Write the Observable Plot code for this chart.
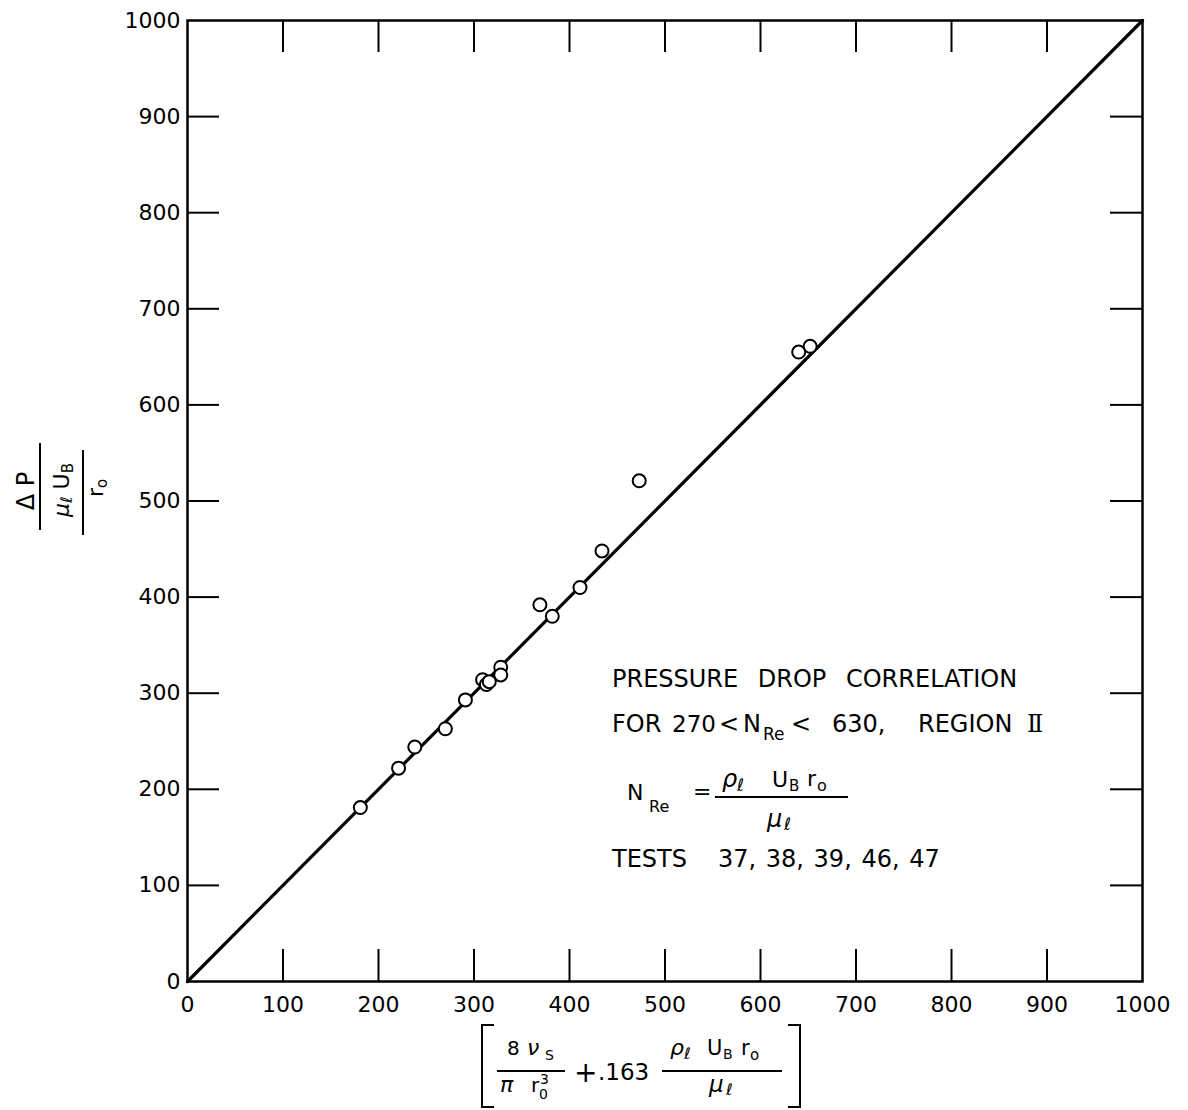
<!DOCTYPE html>
<html>
<head>
<meta charset="utf-8">
<script src="https://cdn.jsdelivr.net/npm/d3@7"></script>
<script src="https://cdn.jsdelivr.net/npm/@observablehq/plot@0.6"></script>
<style>
  html, body { margin: 0; padding: 0; background: #fff; }
  #chart { width: 1188px; height: 1110px; }
</style>
</head>
<body>
<div id="chart"></div>
<script>
// ---- data ----
const xValues = [181, 221, 238, 270, 291, 309, 313, 316, 328, 328, 369, 382, 411, 434, 473, 640, 652];
const yValues = [181, 222, 244, 263, 293, 314, 309, 312, 327, 319, 392, 380, 410, 448, 521, 655, 661];
const tickLabels = [0, 100, 200, 300, 400, 500, 600, 700, 800, 900, 1000];
const innerTicks = [100, 200, 300, 400, 500, 600, 700, 800, 900];
const fitX = [0, 1000];
const fitY = [0, 1000];

const points = xValues.map((x, i) => ({x, y: yValues[i]}));
const fitLine = fitX.map((x, i) => ({x, y: fitY[i]}));

const FONT = "DejaVu Sans";
const W = 1188, H = 1110;
const mL = 187, mR = 46, mT = 20, mB = 129;
// inward tick length in data units (~32px)
const tkX = 32 * 1000 / (W - mL - mR);
const tkY = 32 * 1000 / (H - mT - mB);

const plot = Plot.plot({
  width: W,
  height: H,
  marginLeft: mL,
  marginRight: mR,
  marginTop: mT,
  marginBottom: mB,
  style: {fontFamily: FONT, color: "#000", background: "#fff"},
  x: {domain: [0, 1000], label: null},
  y: {domain: [0, 1000], label: null},
  marks: [
    Plot.axisX(tickLabels, {tickSize: 0, tickPadding: 15, fontSize: 22, label: null, tickFormat: d => String(d)}),
    Plot.axisY(tickLabels, {tickSize: 0, tickPadding: 7, fontSize: 22, label: null, tickFormat: d => String(d)}),
    // inward ticks on all four sides
    Plot.ruleX(innerTicks, {x: d => d, y1: 0, y2: tkY, stroke: "#000", strokeWidth: 2}),
    Plot.ruleX(innerTicks, {x: d => d, y1: 1000, y2: 1000 - tkY, stroke: "#000", strokeWidth: 2}),
    Plot.ruleY(innerTicks, {y: d => d, x1: 0, x2: tkX, stroke: "#000", strokeWidth: 2}),
    Plot.ruleY(innerTicks, {y: d => d, x1: 1000, x2: 1000 - tkX, stroke: "#000", strokeWidth: 2}),
    Plot.line(fitLine, {x: "x", y: "y", stroke: "#000", strokeWidth: 3.2}),
    Plot.dot(points, {x: "x", y: "y", r: 6.5, stroke: "#000", strokeWidth: 2, fill: "#fff"}),
    Plot.frame({stroke: "#000", strokeWidth: 2.5})
  ]
});

document.getElementById("chart").appendChild(plot);

// ---- annotations (text and formula labels) ----
const svg = d3.select(plot);
const g = svg.append("g").attr("font-family", FONT).attr("fill", "#000").attr("text-anchor", "start");

function txt(parent, x, y, s, size, o = {}) {
  const e = parent.append("text").attr("x", x).attr("y", y).attr("font-size", size).text(s);
  if (o.italic) e.attr("font-style", "italic");
  if (o.family) e.attr("font-family", o.family);
  e.attr("text-anchor", o.anchor || "start");
  if (o.ws != null) e.attr("word-spacing", o.ws);
  return e;
}
function hline(parent, x1, x2, y, w = 1.8) {
  parent.append("line").attr("x1", x1).attr("x2", x2).attr("y1", y).attr("y2", y)
    .attr("stroke", "#000").attr("stroke-width", w);
}

// Annotation block
txt(g, 612, 687, "PRESSURE DROP CORRELATION", 24, {ws: 12});
txt(g, 612, 732, "FOR", 24);
txt(g, 672, 732, "270", 23);
txt(g, 719, 732, "<", 24);
txt(g, 743, 732, "N", 24);
txt(g, 763, 740, "Re", 17);
txt(g, 791, 732, "<", 24);
txt(g, 832, 732, "630,", 24);
txt(g, 918, 732, "REGION", 24);
txt(g, 1027, 732, "\u2161", 24, {family: "DejaVu Serif"});

txt(g, 627, 800, "N", 22);
txt(g, 649, 812, "Re", 16);
txt(g, 693, 799, "=", 22);
hline(g, 715, 848, 797);
txt(g, 722, 787, "\u03c1", 24, {italic: true});
txt(g, 737, 791, "\u2113", 17, {italic: true});
txt(g, 772, 787, "U", 22);
txt(g, 789, 791, "B", 15);
txt(g, 807, 786, "r", 22);
txt(g, 817, 791, "o", 16);
txt(g, 767, 827, "\u03bc", 24, {italic: true});
txt(g, 784, 830, "\u2113", 17, {italic: true});

txt(g, 612, 867, "TESTS", 24);
txt(g, 718, 867, "37, 38, 39, 46, 47", 24, {ws: 2});

// X axis label: [ 8 νs / (π r0^3) + .163 ρℓ UB r0 / μℓ ]
const xl = g.append("g");
const bw = 2;
xl.append("path").attr("d", "M494,1025 L482,1025 L482,1107 L494,1107")
  .attr("fill", "none").attr("stroke", "#000").attr("stroke-width", bw);
xl.append("path").attr("d", "M788,1025 L800,1025 L800,1107 L788,1107")
  .attr("fill", "none").attr("stroke", "#000").attr("stroke-width", bw);
txt(xl, 507, 1055, "8", 20);
txt(xl, 527, 1055, "\u03bd", 22, {italic: true});
txt(xl, 545, 1060, "S", 14);
hline(xl, 497, 565, 1071);
txt(xl, 500, 1092, "\u03c0", 22, {italic: true});
txt(xl, 531, 1092, "r", 20);
txt(xl, 539, 1099, "0", 14);
txt(xl, 540, 1084, "3", 14);
txt(xl, 574, 1082, "+", 28);
txt(xl, 598, 1080, ".163", 23);
hline(xl, 662, 782, 1071);
txt(xl, 670, 1055, "\u03c1", 22, {italic: true});
txt(xl, 684, 1059, "\u2113", 16, {italic: true});
txt(xl, 707, 1055, "U", 21);
txt(xl, 723, 1059, "B", 14);
txt(xl, 741, 1055, "r", 21);
txt(xl, 750, 1060, "o", 15);
txt(xl, 709, 1092, "\u03bc", 23, {italic: true});
txt(xl, 726, 1095, "\u2113", 16, {italic: true});

// Y axis label (rotated): ΔP / ( μℓ UB / r0 )
const yl = g.append("g").attr("transform", "translate(0,491) rotate(-90)");
txt(yl, 0, 34, "\u0394 P", 24, {anchor: "middle"});
hline(yl, -39, 48, 40, 2);
const t2 = yl.append("text").attr("x", 1).attr("y", 69).attr("font-size", 22).attr("text-anchor", "middle");
t2.append("tspan").attr("font-style", "italic").text("\u03bc");
t2.append("tspan").attr("font-style", "italic").attr("font-size", 16).attr("dy", 3).text("\u2113");
t2.append("tspan").attr("dy", -3).text(" U");
t2.append("tspan").attr("font-size", 15).attr("dy", 4).text("B");
hline(yl, -44, 41, 83, 2);
const t3 = yl.append("text").attr("x", 3).attr("y", 103).attr("font-size", 22).attr("text-anchor", "middle");
t3.append("tspan").text("r");
t3.append("tspan").attr("font-size", 15).attr("dy", 4).text("o");
</script>
</body>
</html>
